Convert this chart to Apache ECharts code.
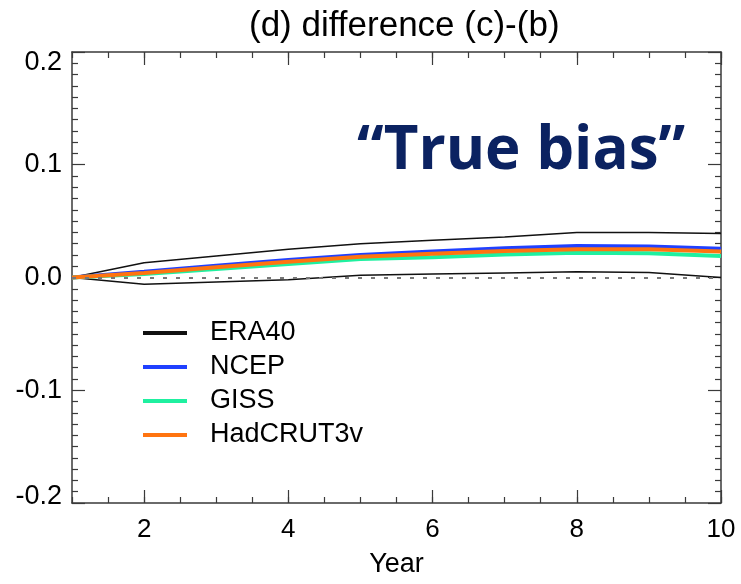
<!DOCTYPE html>
<html>
<head>
<meta charset="utf-8">
<script src="https://cdn.jsdelivr.net/npm/echarts@6/dist/echarts.min.js"></script>
<style>
    html, body { margin: 0; padding: 0; background: #fff; }
    #cn { width: 741px; height: 584px; }
</style>
</head>
<body>
<div id="cn"></div>
<script>
'use strict';

// data
const arrYear = [1, 2, 3, 4, 5, 6, 7, 8, 9, 10];
const arrEraUpper = [0, 0.013, 0.019, 0.025, 0.030, 0.033, 0.036, 0.040, 0.040, 0.039];
const arrEraLower = [0, -0.006, -0.004, -0.002, 0.002, 0.003, 0.004, 0.005, 0.0045, 0.0];
const arrNcep = [0, 0.005, 0.0105, 0.0155, 0.020, 0.023, 0.026, 0.028, 0.0275, 0.0255];
const arrGiss = [0, 0.003, 0.0075, 0.012, 0.0165, 0.018, 0.0205, 0.022, 0.0215, 0.019];
const arrHad = [0, 0.004, 0.009, 0.014, 0.0185, 0.021, 0.0235, 0.025, 0.025, 0.023];
const arrXLabel = [2, 4, 6, 8, 10];

const strFont = '"Liberation Sans", Arial, Helvetica, sans-serif';
const strAxisColor = '#3a3a3a';

const toXY = (arr) => arrYear.map((x, i) => [x, arr[i]]);

const lineSeries = (name, arr, color, width) => {
    return {
        name: name,
        type: 'line',
        data: toXY(arr),
        symbol: 'none',
        lineStyle: {
            width: width,
            color: color
        },
        itemStyle: {
            color: color
        }
    };
}

const xAxisBase = (pos, bLabel) => {
    return {
        type: 'value',
        position: pos,
        min: 1,
        max: 10,
        interval: 0.5,
        splitLine: { show: false },
        axisLine: { show: true, onZero: false, lineStyle: { color: strAxisColor, width: 1.5 } },
        axisTick: { show: true, inside: true, length: 6, lineStyle: { color: strAxisColor, width: 1.2 } },
        axisLabel: {
            show: bLabel,
            customValues: arrXLabel,
            margin: 14,
            color: '#000',
            fontSize: 26,
            fontFamily: strFont
        }
    };
}

// second axis on the same side only for the long ticks
const xAxisMajor = (pos) => {
    return {
        type: 'value',
        position: pos,
        min: 1,
        max: 10,
        interval: 0.5,
        splitLine: { show: false },
        axisLine: { show: false, onZero: false },
        axisTick: { show: true, inside: true, length: 13, customValues: arrXLabel, lineStyle: { color: strAxisColor, width: 1.2 } },
        axisLabel: { show: false }
    };
}

const yAxisBase = (pos, bLabel) => {
    return {
        type: 'value',
        position: pos,
        min: -0.2,
        max: 0.2,
        interval: 0.1,
        splitLine: { show: false },
        axisLine: { show: true, onZero: false, lineStyle: { color: strAxisColor, width: 1.5 } },
        axisTick: { show: true, inside: true, length: 13, lineStyle: { color: strAxisColor, width: 1.2 } },
        minorTick: { show: true, splitNumber: 10, length: 6, lineStyle: { color: strAxisColor, width: 1.2 } },
        axisLabel: {
            show: bLabel,
            margin: 10,
            color: '#000',
            fontSize: 27,
            fontFamily: strFont,
            formatter: (v) => {
                const s = v.toFixed(1);
                if (v > 0.15) return '{t|' + s + '}';
                if (v < -0.15) return '{b|' + s + '}';
                return s;
            },
            rich: {
                t: { fontSize: 27, fontFamily: strFont, color: '#000', padding: [22, 0, 0, 0] },
                b: { fontSize: 27, fontFamily: strFont, color: '#000', padding: [0, 0, 12, 0] }
            }
        }
    };
}

const era = lineSeries('ERA40', arrEraUpper, '#111', 1.5);
era.markLine = {
    silent: true,
    symbol: 'none',
    label: { show: false },
    lineStyle: { color: '#777', type: [4, 9], width: 2 },
    data: [{ yAxis: 0 }]
};

const optionChart = {
    animation: false,
    backgroundColor: '#fff',
    title: [{
            text: '(d) difference (c)-(b)',
            left: 244,
            top: 4,
            textStyle: {
                fontSize: 35,
                fontWeight: 'normal',
                color: '#000',
                fontFamily: strFont
            }
        },
        {
            text: '\u201cTrue bias\u201d',
            left: 352,
            top: 117,
            textStyle: {
                fontSize: 60,
                fontWeight: 'bold',
                color: '#0b2261',
                fontFamily: '"Open Sans", Lato, sans-serif'
            }
        }
    ],
    grid: {
        left: 72,
        right: 20,
        top: 52,
        bottom: 81,
        containLabel: false
    },
    xAxis: [
        Object.assign(xAxisBase('bottom', true), {
            name: 'Year',
            nameLocation: 'middle',
            nameGap: 48,
            nameTextStyle: { fontSize: 27, color: '#000', fontFamily: strFont }
        }),
        xAxisMajor('bottom'),
        xAxisBase('top', false),
        xAxisMajor('top')
    ],
    yAxis: [
        yAxisBase('left', true),
        yAxisBase('right', false)
    ],
    legend: {
        orient: 'vertical',
        left: 143,
        top: 318,
        padding: 0,
        icon: 'rect',
        itemWidth: 44,
        itemHeight: 4,
        itemGap: 4,
        textStyle: {
            fontSize: 27,
            lineHeight: 30,
            color: '#000',
            fontFamily: strFont,
            padding: [0, 0, 0, 18]
        },
        data: ['ERA40', 'NCEP', 'GISS', 'HadCRUT3v']
    },
    series: [
        era,
        lineSeries('ERA40', arrEraLower, '#111', 1.5),
        lineSeries('NCEP', arrNcep, '#2040ff', 4),
        lineSeries('GISS', arrGiss, '#1ff0a0', 4),
        lineSeries('HadCRUT3v', arrHad, '#ff7410', 4)
    ]
}

//main
{
    const echartsPanda = echarts.init(document.getElementById('cn'));
    echartsPanda.setOption(optionChart);
}
</script>
</body>
</html>
